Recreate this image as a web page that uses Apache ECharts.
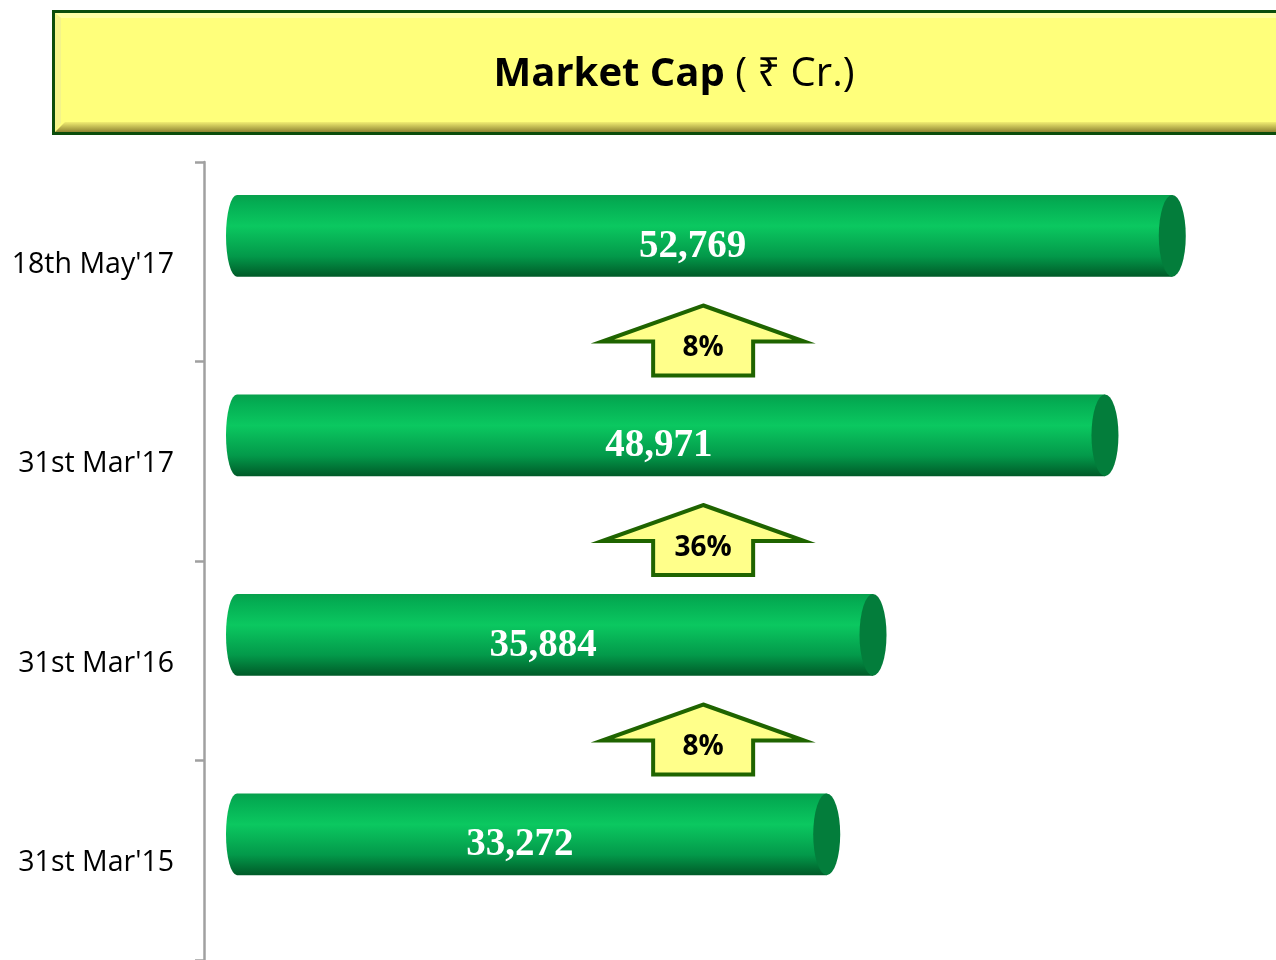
<!DOCTYPE html>
<html>
<head>
<meta charset="utf-8">
<title>Market Cap</title>
<script src="https://cdn.jsdelivr.net/npm/echarts@6/dist/echarts.min.js"></script>
<style>
  html, body { margin: 0; padding: 0; background: #fff; }
  #main { width: 1276px; height: 960px; }
</style>
</head>
<body>
<div id="main"></div>
<script>
// periods, oldest first (oldest is drawn at the bottom)
const periods = ["31st Mar'15", "31st Mar'16", "31st Mar'17", "18th May'17"];
// market cap in Rs crore
const marketCap = [33272, 35884, 48971, 52769];
// growth over the previous period
const growth = ['8%', '36%', '8%'];

// x value where the growth arrows are anchored
const ARROW_AT = 26300;

const chart = echarts.init(document.getElementById('main'));

// green cylinder for each bar
function renderCylinder(params, api) {
  const idx = api.value(1);
  const p0 = api.coord([0, idx]);
  const p1 = api.coord([api.value(0), idx]);
  const band = api.size([0, 1])[1];
  const h = band * 0.41;
  const cy = p0[1] - band * 0.13;
  const top = cy - h / 2, bot = cy + h / 2;
  const x0 = p0[0], x1 = p1[0];
  const rl = 11, rr = 13.5, ry = h / 2;

  const body = 'M' + x0 + ' ' + top + ' L' + x1 + ' ' + top + ' L' + x1 + ' ' + bot +
    ' L' + x0 + ' ' + bot + ' A' + rl + ' ' + ry + ' 0 0 1 ' + x0 + ' ' + top + ' Z';
  const cap = 'M' + (x1 - rr) + ' ' + cy + ' A' + rr + ' ' + ry + ' 0 1 0 ' + (x1 + rr) + ' ' + cy +
    ' A' + rr + ' ' + ry + ' 0 1 0 ' + (x1 - rr) + ' ' + cy + ' Z';

  return {
    type: 'group',
    children: [
      {
        type: 'path',
        shape: { pathData: body },
        style: {
          fill: new echarts.graphic.LinearGradient(0, 0, 0, 1, [
            { offset: 0, color: '#07a04c' },
            { offset: 0.1, color: '#04ad53' },
            { offset: 0.38, color: '#0bc860' },
            { offset: 0.75, color: '#03994a' },
            { offset: 1, color: '#005a28' }
          ])
        }
      },
      {
        type: 'path',
        shape: { pathData: cap },
        style: { fill: '#037d3b' }
      },
      {
        type: 'text',
        style: {
          text: api.value(0).toLocaleString('en-US'),
          x: (x0 + x1) / 2 - 12,
          y: cy + 11,
          fill: '#ffffff',
          fontSize: 39,
          fontWeight: 'bold',
          fontFamily: '"Liberation Serif", serif',
          align: 'center',
          verticalAlign: 'middle'
        }
      }
    ]
  };
}

// yellow up-arrow between two bars
function renderArrow(params, api) {
  const p = api.coord([api.value(0), api.value(1)]);
  const band = api.size([0, 1])[1];
  const cx = p[0];
  const cy = p[1] + band / 2 - 22;
  const pts = [
    [cx, cy - 34], [cx + 101, cy + 2], [cx + 50, cy + 2], [cx + 50, cy + 36],
    [cx - 50, cy + 36], [cx - 50, cy + 2], [cx - 101, cy + 2]
  ];
  return {
    type: 'group',
    children: [
      {
        type: 'polygon',
        shape: { points: pts },
        style: { fill: '#ffff8a', stroke: '#1f6400', lineWidth: 4, lineJoin: 'miter', miterLimit: 10 }
      },
      {
        type: 'text',
        style: {
          text: growth[params.dataIndex],
          x: cx,
          y: cy + 9,
          fill: '#000',
          fontSize: 28,
          fontWeight: 'bold',
          fontFamily: '"Open Sans", sans-serif',
          align: 'center',
          verticalAlign: 'middle'
        }
      }
    ]
  };
}

chart.setOption({
  animation: false,
  backgroundColor: '#ffffff',
  grid: { left: 237, right: 11, top: 162, height: 801 },
  xAxis: { type: 'value', min: 0, max: 58000, show: false },
  yAxis: {
    type: 'category',
    data: periods,
    offset: 33,
    axisLine: { onZero: false, lineStyle: { color: '#a0a0a0', width: 2.5 } },
    axisTick: { show: true, length: 9, lineStyle: { color: '#a0a0a0', width: 2.5 } },
    axisLabel: {
      margin: 30,
      formatter: v => '{l|' + v + '}',
      rich: {
        l: { fontSize: 28.5, fontFamily: '"Open Sans", sans-serif', color: '#000', padding: [6, 0, 0, 0] }
      }
    },
    splitLine: { show: false }
  },
  graphic: [
    {
      type: 'rect',
      shape: { x: 53.5, y: 11.5, width: 1260, height: 122 },
      style: { fill: '#ffff7b', stroke: '#0b4d0b', lineWidth: 3 }
    },
    {
      type: 'polygon',
      shape: { points: [[55, 13], [1290, 13], [1290, 18], [61, 18]] },
      style: { fill: '#ffffa6' }
    },
    {
      type: 'polygon',
      shape: { points: [[55, 13], [61, 18], [61, 123], [55, 132]] },
      style: { fill: '#f4f48a' }
    },
    {
      type: 'polygon',
      shape: { points: [[55, 132], [65, 122], [1290, 122], [1290, 132]] },
      style: {
        fill: new echarts.graphic.LinearGradient(0, 0, 0, 1, [
          { offset: 0, color: '#f2ee72' },
          { offset: 1, color: '#8f8532' }
        ])
      }
    },
    {
      type: 'text',
      x: 674,
      y: 75,
      style: {
        text: '{b|Market Cap} ( \u20B9 Cr.)',
        fontSize: 40,
        fontFamily: '"Open Sans", "Noto Sans", "DejaVu Sans", sans-serif',
        fill: '#000',
        align: 'center',
        verticalAlign: 'middle',
        rich: {
          b: { fontSize: 40, fontWeight: 'bold', fontFamily: '"Open Sans", sans-serif', fill: '#000' }
        }
      }
    }
  ],
  series: [
    {
      type: 'custom',
      renderItem: renderCylinder,
      encode: { x: 0, y: 1 },
      data: marketCap.map((v, i) => [v, i])
    },
    {
      type: 'custom',
      renderItem: renderArrow,
      encode: { x: 0, y: 1 },
      data: growth.map((g, i) => [ARROW_AT, i + 1])
    }
  ]
});
</script>
</body>
</html>
